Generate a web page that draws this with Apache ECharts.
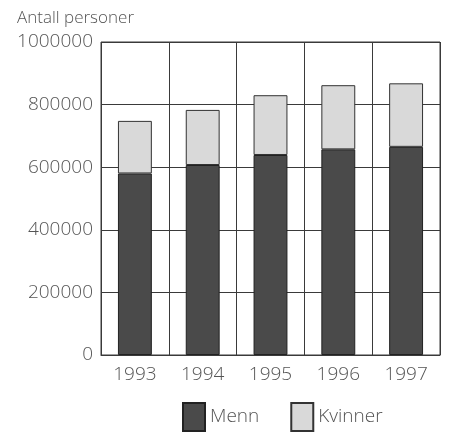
<!DOCTYPE html>
<html>
<head>
<meta charset="utf-8">
<script src="https://cdn.jsdelivr.net/npm/echarts@6/dist/echarts.min.js"></script>
<style>
  html, body { margin: 0; padding: 0; background: #fff; }
  #chart { width: 454px; height: 439px; }
</style>
</head>
<body>
<div id="chart"></div>
<script>
// data
const years = ['1993', '1994', '1995', '1996', '1997'];
const menn = [580000, 607000, 639000, 657000, 665000];
const kvinner = [168000, 176000, 191000, 205000, 203000];
const yTicks = [0, 200000, 400000, 600000, 800000, 1000000];

const chart = echarts.init(document.getElementById('chart'));
const textColor = '#555';
const lineColor = '#3a3a3a';
const font = 'Open Sans';

chart.setOption({
  animation: false,
  graphic: [{
    type: 'text',
    left: 17,
    top: 10,
    style: { text: 'Antall personer', font: '300 17px "Open Sans"', fill: textColor }
  }],
  legend: {
    bottom: 2,
    left: 177,
    itemWidth: 22,
    itemHeight: 28,
    itemGap: 31,
    icon: 'rect',
    textStyle: { fontFamily: font, fontWeight: 300, fontSize: 19, color: textColor },
    data: ['Menn', 'Kvinner']
  },
  grid: {
    left: 101,
    right: 14,
    top: 42,
    bottom: 84,
    show: true,
    borderColor: lineColor,
    borderWidth: 1
  },
  xAxis: {
    type: 'category',
    data: years,
    axisLine: { lineStyle: { color: lineColor } },
    axisTick: { show: false },
    axisLabel: { margin: 10, fontFamily: font, fontWeight: 300, fontSize: 19, color: textColor },
    splitLine: { show: true, lineStyle: { color: lineColor, width: 1 } }
  },
  yAxis: {
    type: 'value',
    min: yTicks[0],
    max: yTicks[yTicks.length - 1],
    interval: 200000,
    axisLine: { show: false },
    axisTick: { show: false },
    axisLabel: {
      margin: 8, fontFamily: font, fontWeight: 300, fontSize: 19, color: textColor,
      formatter: v => String(v)
    },
    splitLine: { lineStyle: { color: lineColor, width: 1 } }
  },
  series: [
    {
      name: 'Menn',
      type: 'bar',
      stack: 'total',
      barWidth: '50%',
      data: menn,
      itemStyle: { color: '#4a4a4a', borderColor: '#222', borderWidth: 1 }
    },
    {
      name: 'Kvinner',
      type: 'bar',
      stack: 'total',
      barWidth: '50%',
      data: kvinner,
      itemStyle: { color: '#d9d9d9', borderColor: '#333', borderWidth: 1 }
    }
  ]
});
</script>
</body>
</html>
